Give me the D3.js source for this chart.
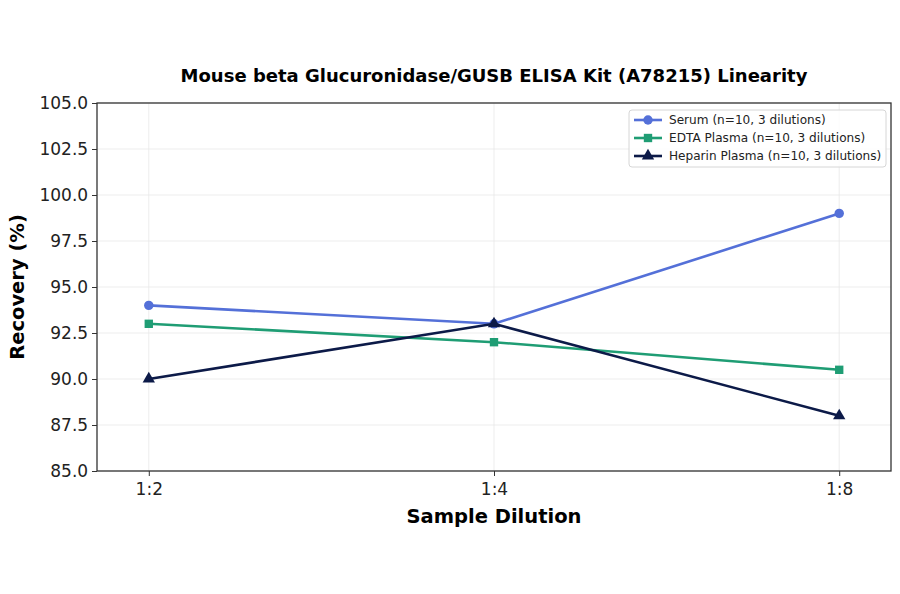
<!DOCTYPE html>
<html>
<head>
<meta charset="utf-8">
<script src="https://cdn.jsdelivr.net/npm/d3@7"></script>
<style>
  body { margin: 0; background: #fff; }
  text { font-family: "DejaVu Sans", sans-serif; }
</style>
</head>
<body>
<svg id="chart" width="900" height="594"></svg>
<script>
const dilutions = ['1:2', '1:4', '1:8']
const seriesNames = [
  'Serum (n=10, 3 dilutions)',
  'EDTA Plasma (n=10, 3 dilutions)',
  'Heparin Plasma (n=10, 3 dilutions)',
]
const serum = [94, 93, 99]
const edta = [93, 92, 90.5]
const heparin = [90, 93, 88]
const yTicks = [85, 87.5, 90, 92.5, 95, 97.5, 100, 102.5, 105]

const colors = ['#5470d8', '#1f9d74', '#0c1a48']
const shapes = [d3.symbolCircle, d3.symbolSquare, d3.symbolTriangle]
const allSeries = [serum, edta, heparin]

const margin = { left: 97, right: 9, top: 103, bottom: 123 }
const width = 900
const height = 594

const svg = d3.select('#chart')

const x = d3.scaleLinear()
  .domain([-0.15, dilutions.length - 1 + 0.15])
  .range([margin.left, width - margin.right])
const y = d3.scaleLinear()
  .domain([85, 105])
  .range([height - margin.bottom, margin.top])

// grid
svg.append('g')
  .selectAll('line.gy')
  .data(yTicks)
  .join('line')
  .attr('x1', margin.left).attr('x2', width - margin.right)
  .attr('y1', (d) => y(d)).attr('y2', (d) => y(d))
  .attr('stroke', '#e8e8e8').attr('stroke-width', 0.8)
svg.append('g')
  .selectAll('line.gx')
  .data(dilutions)
  .join('line')
  .attr('x1', (d, i) => x(i)).attr('x2', (d, i) => x(i))
  .attr('y1', margin.top).attr('y2', height - margin.bottom)
  .attr('stroke', '#e8e8e8').attr('stroke-width', 0.8)

// axes
const xAxis = d3.axisBottom(x)
  .tickValues(d3.range(dilutions.length))
  .tickFormat((i) => dilutions[i])
  .tickSize(5).tickSizeOuter(0)
const yAxis = d3.axisLeft(y)
  .tickValues(yTicks)
  .tickFormat(d3.format('.1f'))
  .tickSize(5).tickSizeOuter(0)

const gx = svg.append('g')
  .attr('transform', `translate(0,${height - margin.bottom})`)
  .call(xAxis)
const gy = svg.append('g')
  .attr('transform', `translate(${margin.left},0)`)
  .call(yAxis)
;[gx, gy].forEach((g) => {
  g.select('.domain').remove()
  g.selectAll('line').attr('stroke', '#333').attr('stroke-width', 1)
  g.selectAll('text').attr('font-size', 17).attr('fill', '#222')
})
gx.selectAll('text').attr('dy', '0.95em')
gy.selectAll('text').attr('dx', '-0.05em')

// frame
svg.append('rect')
  .attr('x', margin.left).attr('y', margin.top)
  .attr('width', width - margin.left - margin.right)
  .attr('height', height - margin.top - margin.bottom)
  .attr('fill', 'none').attr('stroke', '#333').attr('stroke-width', 1.3)

// lines + markers
const line = d3.line().x((d, i) => x(i)).y((d) => y(d))
allSeries.forEach((vals, s) => {
  svg.append('path')
    .datum(vals)
    .attr('d', line)
    .attr('fill', 'none')
    .attr('stroke', colors[s])
    .attr('stroke-width', 2.6)
  svg.append('g')
    .selectAll('path')
    .data(vals)
    .join('path')
    .attr('transform', (d, i) => `translate(${x(i)},${y(d)})`)
    .attr('d', d3.symbol().type(shapes[s]).size(s === 2 ? 66 : 70))
    .attr('fill', colors[s])
})

// title + labels
svg.append('text')
  .attr('x', (margin.left + width - margin.right) / 2)
  .attr('y', 82)
  .attr('text-anchor', 'middle')
  .attr('font-size', 18)
  .attr('font-weight', 'bold')
  .text('Mouse beta Glucuronidase/GUSB ELISA Kit (A78215) Linearity')
svg.append('text')
  .attr('x', (margin.left + width - margin.right) / 2)
  .attr('y', 523)
  .attr('text-anchor', 'middle')
  .attr('font-size', 19.5)
  .attr('font-weight', 'bold')
  .text('Sample Dilution')
svg.append('text')
  .attr('transform', `translate(24,${(margin.top + height - margin.bottom) / 2}) rotate(-90)`)
  .attr('text-anchor', 'middle')
  .attr('font-size', 19.5)
  .attr('font-weight', 'bold')
  .text('Recovery (%)')

// legend
const lg = svg.append('g').attr('transform', 'translate(629,110)')
lg.append('rect')
  .attr('width', 257).attr('height', 57).attr('rx', 3)
  .attr('fill', '#fff').attr('fill-opacity', 0.85)
  .attr('stroke', '#d6d6d6')
seriesNames.forEach((name, s) => {
  const row = lg.append('g').attr('transform', `translate(0,${10 + s * 18})`)
  row.append('line')
    .attr('x1', 5).attr('x2', 33)
    .attr('stroke', colors[s]).attr('stroke-width', 2.6)
  row.append('path')
    .attr('transform', 'translate(19,0)')
    .attr('d', d3.symbol().type(shapes[s]).size(s === 2 ? 66 : 70))
    .attr('fill', colors[s])
  row.append('text')
    .attr('x', 40).attr('dy', '0.35em')
    .attr('font-size', 12.1)
    .attr('fill', '#222')
    .text(name)
})
</script>
</body>
</html>
